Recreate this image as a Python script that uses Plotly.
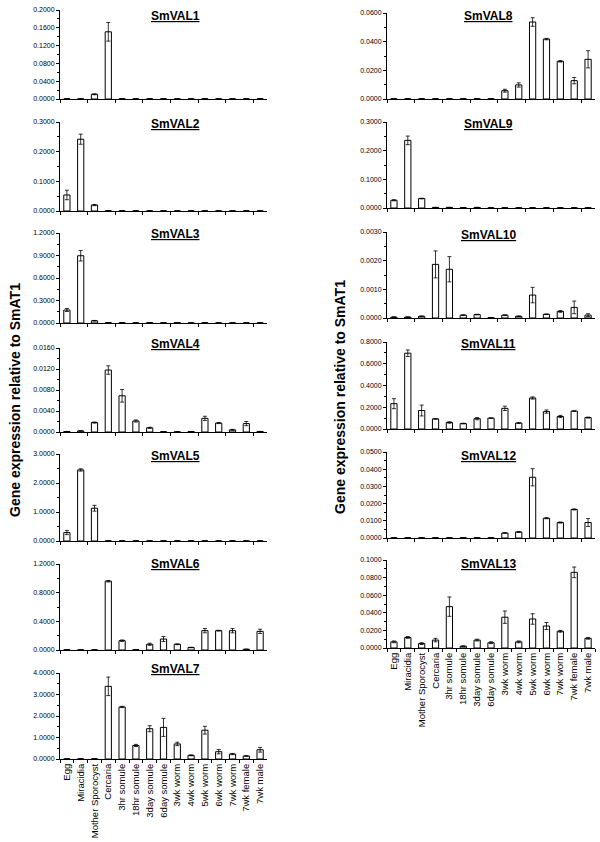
import plotly.graph_objects as go

categories = ["Egg", "Miracidia", "Mother Sporocyst", "Cercaria", "3hr somule",
              "18hr somule", "3day somule", "6day somule", "3wk worm", "4wk worm",
              "5wk worm", "6wk worm", "7wk worm", "7wk female", "7wk male"]

smval1 = [0.0003, 0.0002, 0.0106, 0.151, 0.0004, 0.0002, 0.0003, 0.0002, 0.0002, 0.0002, 0.0003, 0.0002, 0.0002, 0.0002, 0.0003]
err1 = [0, 0, 0.001, 0.021, 0, 0, 0, 0, 0, 0, 0, 0, 0, 0, 0]
smval2 = [0.054, 0.242, 0.020, 0.0005, 0.0003, 0.0002, 0.0002, 0.0002, 0.0002, 0.0002, 0.0002, 0.0002, 0.0002, 0.0002, 0.0002]
err2 = [0.016, 0.017, 0.002, 0, 0, 0, 0, 0, 0, 0, 0, 0, 0, 0, 0]
smval3 = [0.173, 0.897, 0.030, 0.004, 0.003, 0.001, 0.005, 0.001, 0.006, 0.001, 0.002, 0.001, 0.001, 0.001, 0.001]
err3 = [0.02, 0.07, 0.004, 0, 0, 0, 0, 0, 0, 0, 0, 0, 0, 0, 0]
smval4 = [0.0001, 0.0002, 0.0018, 0.0118, 0.0069, 0.0021, 0.0008, 0.00005, 0.00003, 0.0001, 0.0026, 0.0017, 0.0004, 0.0016, 0.0001]
err4 = [0, 0, 0.0001, 0.0008, 0.0012, 0.0002, 0.0001, 0, 0, 0, 0.0004, 0.0001, 0.0001, 0.0004, 0]
smval5 = [0.29, 2.45, 1.13, 0.002, 0.001, 0.001, 0.001, 0.001, 0.001, 0.001, 0.001, 0.001, 0.001, 0.001, 0.001]
err5 = [0.07, 0.04, 0.10, 0, 0, 0, 0, 0, 0, 0, 0, 0, 0, 0, 0]
smval6 = [0.003, 0.002, 0.001, 0.96, 0.13, 0.005, 0.08, 0.153, 0.08, 0.035, 0.27, 0.27, 0.27, 0.01, 0.26]
err6 = [0, 0, 0, 0.01, 0.01, 0, 0.015, 0.035, 0.005, 0.003, 0.03, 0.005, 0.03, 0.002, 0.03]
smval7 = [0.005, 0.003, 0.005, 3.38, 2.42, 0.63, 1.41, 1.47, 0.70, 0.17, 1.34, 0.34, 0.23, 0.14, 0.43]
err7 = [0, 0, 0, 0.43, 0.03, 0.05, 0.14, 0.42, 0.08, 0.02, 0.18, 0.10, 0.03, 0.01, 0.11]
smval8 = [0.0001, 0.0001, 0.0001, 0.0001, 0.0001, 0.0001, 0.0001, 0.0001, 0.0058, 0.0098, 0.0537, 0.0418, 0.0263, 0.0128, 0.0277]
err8 = [0, 0, 0, 0, 0, 0, 0, 0, 0.001, 0.0015, 0.003, 0.0005, 0.0005, 0.0022, 0.006]
smval9 = [0.027, 0.236, 0.033, 0.002, 0.002, 0.001, 0.002, 0.0005, 0.0005, 0.0005, 0.0005, 0.0005, 0.0005, 0.0005, 0.0005]
err9 = [0.002, 0.015, 0.001, 0, 0, 0, 0, 0, 0, 0, 0, 0, 0, 0, 0]
smval10 = [0.00003, 0.00003, 0.00006, 0.00187, 0.0017, 0.0001, 0.00012, 0.00001, 0.0001, 0.00006, 0.0008, 0.00013, 0.00023, 0.00037, 0.0001]
err10 = [0.00001, 0.00001, 0.00001, 0.00047, 0.00044, 0.00001, 0.00001, 0, 0.00001, 0.00001, 0.00027, 0.00001, 0.00003, 0.00022, 0.00005]
smval11 = [0.233, 0.697, 0.17, 0.093, 0.06, 0.05, 0.095, 0.1, 0.19, 0.055, 0.285, 0.16, 0.115, 0.165, 0.105]
err11 = [0.046, 0.03, 0.05, 0.002, 0.007, 0.003, 0.01, 0.002, 0.02, 0.004, 0.01, 0.015, 0.01, 0.002, 0.004]
smval12 = [0.0001, 0.0001, 0.0001, 0.0001, 0.0001, 0.0001, 0.0001, 0.0001, 0.0029, 0.0035, 0.0353, 0.0115, 0.009, 0.0166, 0.009]
err12 = [0, 0, 0, 0, 0, 0, 0, 0, 0.0002, 0.0003, 0.005, 0.0003, 0.0003, 0.0003, 0.0023]
smval13 = [0.007, 0.012, 0.005, 0.009, 0.047, 0.002, 0.009, 0.006, 0.035, 0.007, 0.033, 0.025, 0.019, 0.086, 0.011]
err13 = [0.001, 0.001, 0.001, 0.002, 0.011, 0.0005, 0.001, 0.001, 0.007, 0.001, 0.006, 0.004, 0.001, 0.006, 0.001]

names = ["SmVAL1", "SmVAL2", "SmVAL3", "SmVAL4", "SmVAL5", "SmVAL6", "SmVAL7",
         "SmVAL8", "SmVAL9", "SmVAL10", "SmVAL11", "SmVAL12", "SmVAL13"]
values = [smval1, smval2, smval3, smval4, smval5, smval6, smval7,
          smval8, smval9, smval10, smval11, smval12, smval13]
errors = [err1, err2, err3, err4, err5, err6, err7,
          err8, err9, err10, err11, err12, err13]
y_max = [0.2, 0.3, 1.2, 0.016, 3.0, 1.2, 4.0, 0.06, 0.3, 0.003, 0.8, 0.05, 0.1]
y_step = [0.04, 0.1, 0.3, 0.004, 1.0, 0.4, 1.0, 0.02, 0.1, 0.001, 0.2, 0.01, 0.02]

# layout (pixels)
W, H = 600, 842
panel_px = [(10, 99), (122, 211), (233, 323), (348, 432), (454, 541), (564, 650), (673, 759),
            (13, 99), (122, 208), (232, 318), (342, 429), (452, 538), (560, 648)]
title_y = [16, 124, 234, 344, 456, 564, 669, 16, 124, 235, 344, 456, 564]
col_x = {"L": (60, 267, 175), "R": (387, 595, 489)}
FONT = "Liberation Sans, Arial, sans-serif"

fig = go.Figure()
layout = dict(template="none", width=W, height=H, margin=dict(l=0, r=0, t=0, b=0),
              paper_bgcolor="white", plot_bgcolor="white", showlegend=False,
              font=dict(family=FONT, color="black"), annotations=[])

for i, name in enumerate(names):
    col = "L" if i < 7 else "R"
    x0, x1, tx = col_x[col]
    top, zero = panel_px[i]
    k = "" if i == 0 else str(i + 1)
    fig.add_trace(go.Bar(
        x=categories, y=values[i], xaxis="x" + k, yaxis="y" + k,
        width=0.45, marker=dict(color="white", line=dict(color="black", width=1)),
        error_y=dict(type="data", array=errors[i], visible=True, color="black", thickness=0.8, width=2),
    ))
    bottom = i in (6, 12)
    layout["xaxis" + k] = dict(
        domain=[x0 / W, x1 / W], anchor="y" + k, type="category",
        categoryorder="array", categoryarray=categories, range=[-0.5, 14.5],
        showline=True, linecolor="black", linewidth=1, ticks="outside", ticklen=3,
        tickcolor="black", tickwidth=1, tickson="boundaries", showgrid=False,
        showticklabels=bottom, tickangle=-90,
        tickfont=dict(size=9.5, family=FONT, color="black"),
        fixedrange=True,
    )
    layout["yaxis" + k] = dict(
        domain=[1 - zero / H, 1 - top / H], anchor="x" + k, range=[0, y_max[i]],
        tick0=0, dtick=y_step[i], tickformat=".4f", showline=True, linecolor="black",
        linewidth=1, ticks="outside", ticklen=3, tickcolor="black", tickwidth=1,
        showgrid=False, zeroline=False, tickfont=dict(size=7, family=FONT, color="black"),
        minor=dict(dtick=y_step[i] / 2, ticks="outside", ticklen=2, tickcolor="black", showgrid=False),
        fixedrange=True,
    )
    layout["annotations"].append(dict(
        text="<b><u>" + name + "</u></b>", x=tx / W, y=1 - title_y[i] / H,
        xref="paper", yref="paper", xanchor="center", yanchor="middle",
        showarrow=False, font=dict(size=12, family=FONT, color="black"),
    ))

for cx, cy in [(15, 400), (340, 397)]:
    layout["annotations"].append(dict(
        text="<b>Gene expression relative to SmAT1</b>", x=cx / W, y=1 - cy / H,
        xref="paper", yref="paper", xanchor="center", yanchor="middle", textangle=-90,
        showarrow=False, font=dict(size=14, family=FONT, color="black"),
    ))

fig.update_layout(**layout)
fig.write_html("out.html", config={"displayModeBar": False},
               post_script="document.body.style.margin='0';")
